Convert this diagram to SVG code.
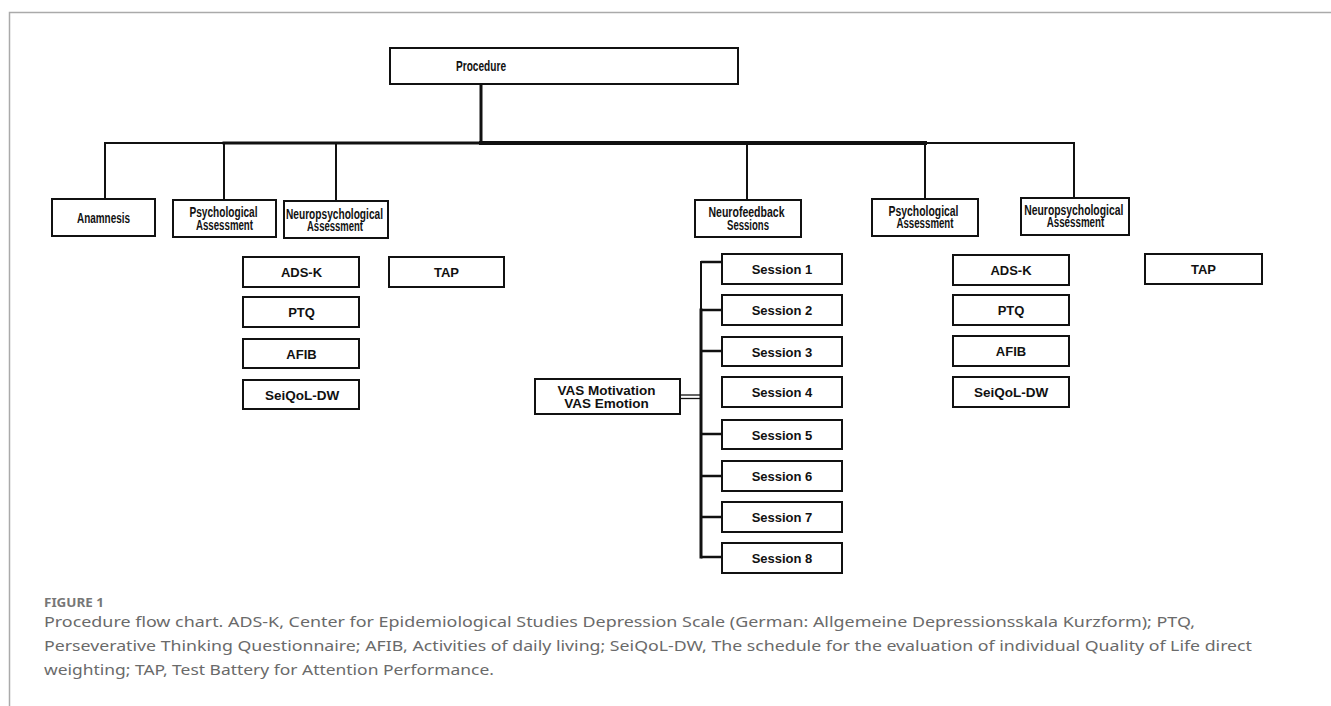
<svg xmlns="http://www.w3.org/2000/svg" width="1331" height="706" viewBox="0 0 1331 706">
<style>
.box{fill:#fff;stroke:#111;stroke-width:2}
.lbl{font-family:"Liberation Sans",Arial,sans-serif;font-weight:bold;font-size:13px;text-anchor:middle;fill:#111}
.cnd{font-family:"Liberation Sans Narrow","Liberation Sans",Arial,sans-serif;font-weight:bold;font-size:14px;text-anchor:middle;fill:#111}
.ln{stroke:#111;fill:none;stroke-linecap:square}
.cap{font-family:"Noto Sans","Open Sans",sans-serif;font-size:15px;fill:#6a6a6a}
</style>
<rect x="0" y="0" width="1331" height="706" fill="#fff"/>
<path d="M9.5 706 V12.5 H1331" fill="none" stroke="#aaa" stroke-width="1.5"/>

<g id="connectors">
  <line class="ln" x1="481" y1="84" x2="481" y2="143" stroke-width="3"/>
  <line class="ln" x1="105" y1="143" x2="224" y2="143" stroke-width="2"/>
  <line class="ln" x1="224" y1="143" x2="481" y2="143" stroke-width="3"/>
  <line class="ln" x1="481" y1="143" x2="925" y2="143" stroke-width="4"/>
  <line class="ln" x1="925" y1="143" x2="1074" y2="143" stroke-width="2"/>
  <line class="ln" x1="105" y1="143" x2="105" y2="199" stroke-width="2"/>
  <line class="ln" x1="224" y1="143" x2="224" y2="200" stroke-width="2"/>
  <line class="ln" x1="336" y1="143" x2="336" y2="201" stroke-width="2"/>
  <line class="ln" x1="747" y1="143" x2="747" y2="200" stroke-width="2"/>
  <line class="ln" x1="925" y1="143" x2="925" y2="199" stroke-width="2"/>
  <line class="ln" x1="1074" y1="143" x2="1074" y2="198" stroke-width="2"/>
  <line class="ln" x1="701" y1="262" x2="701" y2="310" stroke-width="2"/>
  <line class="ln" x1="701" y1="310" x2="701" y2="557" stroke-width="3"/>
  <line x1="701" y1="262" x2="722" y2="262" stroke="#111" stroke-width="2.5"/>
  <line x1="701" y1="310" x2="722" y2="310" stroke="#111" stroke-width="2.5"/>
  <line x1="701" y1="351" x2="722" y2="351" stroke="#111" stroke-width="2.5"/>
  <line x1="701" y1="434" x2="722" y2="434" stroke="#111" stroke-width="2.5"/>
  <line x1="701" y1="476" x2="722" y2="476" stroke="#111" stroke-width="2.5"/>
  <line x1="701" y1="517" x2="722" y2="517" stroke="#111" stroke-width="2.5"/>
  <line x1="701" y1="557" x2="722" y2="557" stroke="#111" stroke-width="2.5"/>
  <line x1="680" y1="395" x2="701" y2="395" stroke="#111" stroke-width="1.3"/>
  <line x1="680" y1="398.5" x2="701" y2="398.5" stroke="#111" stroke-width="1.3"/>
</g>

<g id="procedure">
  <rect class="box" x="390" y="48" width="348" height="36"/>
  <text class="cnd" x="481" y="70.5" textLength="50" lengthAdjust="spacingAndGlyphs">Procedure</text>
</g>

<g id="anamnesis">
  <rect class="box" x="52" y="199" width="103" height="37"/>
  <text class="cnd" x="103.5" y="222.5" textLength="53" lengthAdjust="spacingAndGlyphs">Anamnesis</text>
</g>
<g id="psych1">
  <rect class="box" x="173" y="200" width="103" height="37"/>
  <text class="cnd" x="223.5" y="216.5" textLength="68" lengthAdjust="spacingAndGlyphs">Psychological</text>
  <text class="cnd" x="224.5" y="229.5" textLength="57" lengthAdjust="spacingAndGlyphs">Assessment</text>
</g>
<g id="neuro1">
  <rect class="box" x="284" y="201" width="104" height="37"/>
  <text class="cnd" x="334.5" y="218.5" textLength="97" lengthAdjust="spacingAndGlyphs">Neuropsychological</text>
  <text class="cnd" x="335" y="231.3" textLength="56" lengthAdjust="spacingAndGlyphs">Assessment</text>
</g>
<g id="nf">
  <rect class="box" x="695" y="200" width="106" height="37"/>
  <text class="cnd" x="746.5" y="217" textLength="76" lengthAdjust="spacingAndGlyphs">Neurofeedback</text>
  <text class="cnd" x="748" y="229.8" textLength="42" lengthAdjust="spacingAndGlyphs">Sessions</text>
</g>
<g id="psych2">
  <rect class="box" x="872" y="199" width="106" height="37"/>
  <text class="cnd" x="923.5" y="215.5" textLength="70" lengthAdjust="spacingAndGlyphs">Psychological</text>
  <text class="cnd" x="925" y="228" textLength="57" lengthAdjust="spacingAndGlyphs">Assessment</text>
</g>
<g id="neuro2">
  <rect class="box" x="1021" y="198" width="108" height="37"/>
  <text class="cnd" x="1073.8" y="214.5" textLength="99" lengthAdjust="spacingAndGlyphs">Neuropsychological</text>
  <text class="cnd" x="1075.5" y="226.5" textLength="57.6" lengthAdjust="spacingAndGlyphs">Assessment</text>
</g>

<g id="adsk1"><rect class="box" x="243" y="257" width="116" height="30"/><text class="lbl" x="301.5" y="277.3">ADS-K</text></g>
<g id="ptq1"><rect class="box" x="243" y="297" width="116" height="30"/><text class="lbl" x="301.5" y="317">PTQ</text></g>
<g id="afib1"><rect class="box" x="243" y="339" width="116" height="29"/><text class="lbl" x="301.5" y="358.5">AFIB</text></g>
<g id="seiqol1"><rect class="box" x="243" y="380" width="116" height="29"/><text class="lbl" x="302" y="399.5" style="font-size:13.5px">SeiQoL-DW</text></g>
<g id="tap1"><rect class="box" x="389" y="257" width="115" height="30"/><text class="lbl" x="446.5" y="277">TAP</text></g>

<g id="vas"><rect class="box" x="535" y="379" width="145" height="35"/>
  <text class="lbl" x="606.5" y="395" style="font-size:13.5px">VAS Motivation</text>
  <text class="lbl" x="606.5" y="407.7" style="font-size:13.5px">VAS Emotion</text>
</g>

<g id="s1"><rect class="box" x="722" y="254" width="120" height="30"/><text class="lbl" x="782" y="274.3">Session 1</text></g>
<g id="s2"><rect class="box" x="722" y="295" width="120" height="30"/><text class="lbl" x="782" y="315.3">Session 2</text></g>
<g id="s3"><rect class="box" x="722" y="337" width="120" height="29"/><text class="lbl" x="782" y="356.5">Session 3</text></g>
<g id="s4"><rect class="box" x="722" y="377" width="120" height="30"/><text class="lbl" x="782" y="397.3">Session 4</text></g>
<g id="s5"><rect class="box" x="722" y="420" width="120" height="29"/><text class="lbl" x="782" y="439.5">Session 5</text></g>
<g id="s6"><rect class="box" x="722" y="461" width="120" height="30"/><text class="lbl" x="782" y="481.3">Session 6</text></g>
<g id="s7"><rect class="box" x="722" y="502" width="120" height="30"/><text class="lbl" x="782" y="522.3">Session 7</text></g>
<g id="s8"><rect class="box" x="722" y="543" width="120" height="30"/><text class="lbl" x="782" y="563.3">Session 8</text></g>

<g id="adsk2"><rect class="box" x="953" y="255" width="116" height="30"/><text class="lbl" x="1011" y="275.3">ADS-K</text></g>
<g id="ptq2"><rect class="box" x="953" y="295" width="116" height="30"/><text class="lbl" x="1011" y="315.3">PTQ</text></g>
<g id="afib2"><rect class="box" x="953" y="336" width="116" height="30"/><text class="lbl" x="1011" y="356.3">AFIB</text></g>
<g id="seiqol2"><rect class="box" x="953" y="377" width="116" height="30"/><text class="lbl" x="1011" y="397.3" style="font-size:13.5px">SeiQoL-DW</text></g>
<g id="tap2"><rect class="box" x="1145" y="254" width="117" height="30"/><text class="lbl" x="1203.5" y="274.3">TAP</text></g>

<g id="caption">
  <text x="44" y="607" style="font-family:'Noto Sans','Open Sans',sans-serif;font-size:11.5px;font-weight:bold;fill:#777" textLength="60" lengthAdjust="spacingAndGlyphs">FIGURE 1</text>
  <text class="cap" x="44" y="626.5" textLength="1151" lengthAdjust="spacingAndGlyphs">Procedure flow chart. ADS-K, Center for Epidemiological Studies Depression Scale (German: Allgemeine Depressionsskala Kurzform); PTQ,</text>
  <text class="cap" x="44" y="650.5" textLength="1208" lengthAdjust="spacingAndGlyphs">Perseverative Thinking Questionnaire; AFIB, Activities of daily living; SeiQoL-DW, The schedule for the evaluation of individual Quality of Life direct</text>
  <text class="cap" x="44" y="674.5" textLength="450" lengthAdjust="spacingAndGlyphs">weighting; TAP, Test Battery for Attention Performance.</text>
</g>
</svg>
